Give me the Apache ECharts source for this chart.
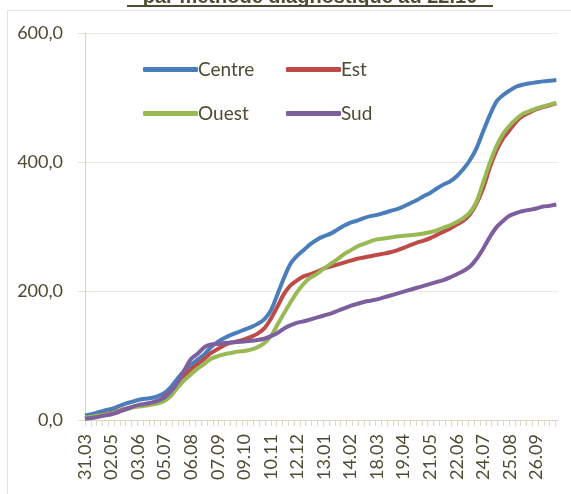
<!DOCTYPE html>
<html>
<head>
<meta charset="utf-8">
<script src="https://cdn.jsdelivr.net/npm/echarts@6/dist/echarts.min.js"></script>
<style>
  html, body { margin: 0; padding: 0; background: #fff; }
  #chart { width: 571px; height: 494px; }
</style>
</head>
<body>
<div id="chart"></div>
<script>
// daily axis 31.03 -> 22.10, values read every 8 days
var dayCount = 571;
var step = 8;
var tickLabels = ['31.03', '02.05', '03.06', '05.07', '06.08', '07.09', '09.10', '10.11', '12.12',
  '13.01', '14.02', '18.03', '19.04', '21.05', '22.06', '24.07', '25.08', '26.09'];

var centre = [7, 9, 12, 15, 17, 21, 25, 28, 31, 33, 34, 37, 42, 52, 65, 77, 86, 94, 102, 113,
  121, 127, 132, 136, 140, 144, 149, 156, 170, 195, 221, 243, 255, 264, 273, 280, 285, 289,
  295, 301, 306, 309, 313, 316, 318, 321, 324, 327, 331, 336, 341, 347, 352, 359, 365, 370,
  378, 389, 403, 422, 448, 473, 494, 504, 511, 517, 520, 522, 523.5, 525, 526, 527];
var est = [3, 5, 7, 9, 11, 14, 17, 20, 22, 24, 26, 29, 36, 45, 57, 69, 79, 87, 95, 104,
  110, 116, 120, 122, 125, 129, 134, 142, 157, 176, 196, 209, 217, 223, 226, 230, 235, 238,
  241, 244, 247, 250, 252, 254, 256, 258, 260, 263, 267, 271, 275, 278, 282, 287, 292, 297,
  303, 309, 319, 336, 360, 392, 418, 437, 450, 463, 472, 477, 482, 485, 488, 491];
var ouest = [4, 5, 7, 8, 10, 13, 16, 19, 21, 22, 24, 26, 30, 38, 51, 62, 71, 80, 87, 95,
  99, 102, 104, 106, 107, 109, 113, 119, 130, 148, 166, 183, 199, 212, 221, 227, 235, 242,
  249, 257, 263, 269, 273, 277, 280, 281.5, 283, 284.5, 285.5, 286.5, 287.5, 289, 291, 294,
  298, 302, 307, 313, 322, 339, 369, 399, 425, 444, 457, 467, 475, 479, 483, 486, 489, 492];
var sud = [2, 3, 5, 7, 9, 12, 16, 20, 23, 25, 27, 30, 35, 45, 59, 78, 95, 103, 113, 117,
  118, 119.5, 120, 121, 121.5, 123, 124, 126, 130, 135, 142, 147, 151, 153, 156, 159, 162,
  165, 169, 173, 177, 180, 183, 185, 187, 190, 193, 196, 199, 202, 205, 208, 211, 214, 217,
  221, 226, 231, 238, 250, 266, 284, 299, 309, 317, 321, 324, 326, 328, 331, 332, 334];

var txtColor = '#4f4a33';
var font = 'Lato';

var days = [];
for (var i = 0; i < dayCount; i++) days.push(i);

function toPairs(arr) {
  return arr.map(function (v, k) { return [k * step, v]; });
}

var chart = echarts.init(document.getElementById('chart'));

function legendItem(name, left, top) {
  return {
    data: [name],
    left: left,
    top: top,
    icon: 'roundRect',
    itemWidth: 55,
    itemHeight: 5,
    itemGap: 0,
    textStyle: { color: txtColor, fontSize: 19, fontFamily: font, padding: [0, 0, 0, -5] }
  };
}

function lineSeries(name, color, arr) {
  return {
    name: name,
    type: 'line',
    data: toPairs(arr),
    showSymbol: false,
    smooth: 0.3,
    color: color,
    lineStyle: { color: color, width: 4 }
  };
}

var option = {
  animation: false,
  textStyle: { fontFamily: font },
  graphic: [
    {
      type: 'rect',
      shape: { x: 7.5, y: 10.5, width: 700, height: 700 },
      style: { fill: 'none', stroke: '#e3e3e3', lineWidth: 1 },
      silent: true
    },
    {
      type: 'text',
      x: 310, y: -13,
      style: {
        text: 'par méthode diagnostique au 22.10',
        fill: txtColor,
        font: 'bold 20px "Liberation Sans"',
        align: 'center',
        verticalAlign: 'top'
      }
    },
    {
      type: 'line',
      shape: { x1: 127, y1: 6, x2: 493, y2: 6 },
      style: { stroke: txtColor, lineWidth: 2 }
    }
  ],
  legend: [
    legendItem('Centre', 138, 55),
    legendItem('Est', 281, 55),
    legendItem('Ouest', 138, 99),
    legendItem('Sud', 281, 99)
  ],
  grid: { left: 85, right: 13, top: 33, bottom: 74 },
  xAxis: {
    type: 'category',
    data: days,
    boundaryGap: false,
    axisLine: { lineStyle: { color: '#d9d4b8', width: 1 } },
    axisTick: {
      interval: function (i) { return i % 7 === 0; },
      length: 6,
      lineStyle: { color: '#ddd9c4' }
    },
    axisLabel: {
      interval: function (i) { return i % 32 === 0; },
      rotate: 90,
      margin: 14,
      color: txtColor,
      fontSize: 18,
      fontFamily: font,
      formatter: function (v, i) { return tickLabels[i / 32] || ''; }
    },
    splitLine: { show: false }
  },
  yAxis: {
    type: 'value',
    min: 0,
    max: 600,
    interval: 200,
    axisLine: { show: true, lineStyle: { color: '#d9d4b8' } },
    axisTick: { show: true, length: 7, lineStyle: { color: '#e6e3d3' } },
    axisLabel: {
      color: txtColor,
      fontSize: 18,
      fontFamily: font,
      margin: 22,
      formatter: function (v) { return v.toFixed(1).replace('.', ','); }
    },
    splitLine: { lineStyle: { color: '#ebe9df' } }
  },
  series: [
    lineSeries('Centre', '#4a7ebb', centre),
    lineSeries('Est', '#be4b48', est),
    lineSeries('Ouest', '#98b954', ouest),
    lineSeries('Sud', '#7d5fa0', sud)
  ]
};

chart.setOption(option);
</script>
</body>
</html>
